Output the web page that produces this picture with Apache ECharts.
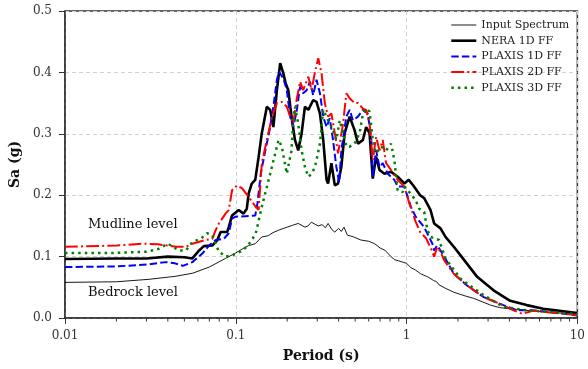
<!DOCTYPE html>
<html>
<head>
<meta charset="utf-8">
<script src="https://cdn.jsdelivr.net/npm/echarts@6/dist/echarts.min.js"></script>
<style>
  html, body { margin: 0; padding: 0; background: #fff; }
  #chart { width: 588px; height: 369px; }
</style>
</head>
<body>
<div id="chart"></div>
<script>
// [period (s), Sa (g)]
const inputSpectrum = [[0.01,0.058],[0.02,0.059],[0.031,0.063],[0.0446,0.068],[0.056,0.073],[0.07,0.083],[0.087,0.097],[0.1,0.106],[0.11,0.113],[0.119,0.118],[0.13,0.121],[0.142,0.132],[0.155,0.134],[0.165,0.139],[0.178,0.143],[0.2,0.148],[0.215,0.151],[0.232,0.154],[0.254,0.148],[0.265,0.150],[0.277,0.156],[0.29,0.153],[0.304,0.150],[0.32,0.152],[0.335,0.147],[0.347,0.154],[0.365,0.144],[0.38,0.140],[0.4,0.146],[0.415,0.141],[0.43,0.148],[0.45,0.135],[0.49,0.132],[0.54,0.127],[0.6,0.125],[0.65,0.121],[0.7,0.114],[0.75,0.110],[0.81,0.100],[0.85,0.095],[0.9,0.093],[1.0,0.089],[1.06,0.082],[1.13,0.078],[1.21,0.072],[1.33,0.067],[1.44,0.061],[1.5,0.059],[1.55,0.054],[1.7,0.048],[1.89,0.042],[2.2,0.036],[2.47,0.032],[2.8,0.026],[3.1,0.021],[3.5,0.017],[4.0,0.015],[5.0,0.0125],[6.3,0.010],[8,0.008],[10,0.007]];

const nera1d = [[0.01,0.096],[0.02,0.097],[0.03,0.097],[0.04,0.100],[0.05,0.099],[0.0557,0.097],[0.061,0.110],[0.065,0.117],[0.0728,0.118],[0.078,0.127],[0.0815,0.140],[0.089,0.140],[0.091,0.148],[0.0951,0.167],[0.104,0.176],[0.111,0.170],[0.116,0.178],[0.119,0.203],[0.124,0.219],[0.13,0.225],[0.136,0.262],[0.142,0.301],[0.152,0.344],[0.159,0.339],[0.166,0.311],[0.174,0.371],[0.182,0.415],[0.19,0.398],[0.196,0.382],[0.203,0.371],[0.212,0.328],[0.222,0.290],[0.232,0.273],[0.243,0.301],[0.254,0.344],[0.266,0.339],[0.284,0.355],[0.297,0.352],[0.311,0.333],[0.325,0.290],[0.34,0.225],[0.347,0.219],[0.363,0.252],[0.38,0.216],[0.397,0.219],[0.415,0.246],[0.434,0.301],[0.464,0.328],[0.496,0.306],[0.519,0.284],[0.555,0.290],[0.58,0.311],[0.607,0.301],[0.634,0.227],[0.663,0.263],[0.694,0.241],[0.742,0.235],[0.811,0.238],[0.887,0.230],[0.97,0.219],[1.03,0.225],[1.1,0.215],[1.2,0.200],[1.27,0.195],[1.38,0.176],[1.45,0.154],[1.58,0.146],[1.69,0.132],[1.89,0.116],[2.07,0.102],[2.59,0.067],[3.23,0.045],[4.04,0.028],[5.05,0.021],[6.32,0.015],[10,0.008]];

const plaxis1d = [[0.01,0.083],[0.02,0.084],[0.03,0.087],[0.039,0.091],[0.044,0.089],[0.049,0.085],[0.0557,0.091],[0.0637,0.105],[0.0697,0.118],[0.0762,0.127],[0.0851,0.129],[0.091,0.138],[0.0951,0.162],[0.0996,0.165],[0.119,0.166],[0.13,0.167],[0.134,0.187],[0.14,0.235],[0.149,0.273],[0.159,0.311],[0.166,0.344],[0.174,0.388],[0.179,0.401],[0.19,0.390],[0.199,0.371],[0.208,0.328],[0.217,0.311],[0.227,0.336],[0.238,0.377],[0.248,0.366],[0.26,0.371],[0.272,0.385],[0.284,0.363],[0.297,0.388],[0.311,0.366],[0.325,0.328],[0.34,0.311],[0.355,0.325],[0.371,0.290],[0.388,0.246],[0.403,0.221],[0.415,0.273],[0.444,0.328],[0.464,0.339],[0.485,0.322],[0.519,0.328],[0.555,0.339],[0.593,0.333],[0.62,0.295],[0.634,0.230],[0.663,0.273],[0.694,0.246],[0.725,0.252],[0.776,0.235],[0.848,0.225],[0.887,0.214],[0.97,0.214],[1.06,0.181],[1.13,0.165],[1.267,0.148],[1.416,0.121],[1.45,0.110],[1.51,0.118],[1.58,0.110],[1.66,0.100],[1.89,0.072],[2.26,0.053],[2.83,0.034],[3.53,0.023],[4.42,0.0125],[5.53,0.0125],[6.9,0.010],[10,0.004]];

const plaxis2d = [[0.01,0.116],[0.02,0.118],[0.0285,0.121],[0.035,0.120],[0.045,0.116],[0.051,0.116],[0.0557,0.121],[0.0666,0.127],[0.0728,0.129],[0.0762,0.143],[0.0796,0.154],[0.0871,0.170],[0.091,0.176],[0.0951,0.208],[0.1018,0.216],[0.109,0.211],[0.119,0.197],[0.13,0.182],[0.136,0.176],[0.142,0.252],[0.152,0.290],[0.163,0.328],[0.174,0.350],[0.186,0.352],[0.199,0.344],[0.208,0.328],[0.217,0.317],[0.227,0.355],[0.238,0.385],[0.248,0.371],[0.266,0.393],[0.278,0.371],[0.291,0.401],[0.304,0.423],[0.318,0.398],[0.332,0.350],[0.347,0.328],[0.363,0.333],[0.38,0.301],[0.397,0.268],[0.425,0.317],[0.444,0.366],[0.454,0.369],[0.464,0.358],[0.475,0.355],[0.496,0.350],[0.519,0.350],[0.555,0.341],[0.58,0.339],[0.607,0.317],[0.634,0.257],[0.663,0.295],[0.694,0.273],[0.725,0.290],[0.759,0.252],[0.811,0.241],[0.887,0.225],[0.97,0.214],[1.037,0.187],[1.13,0.157],[1.2,0.140],[1.3,0.130],[1.416,0.108],[1.45,0.100],[1.51,0.115],[1.58,0.108],[1.66,0.094],[1.89,0.072],[2.26,0.053],[2.83,0.034],[3.53,0.023],[4.2,0.013],[4.72,0.007],[5.05,0.009],[5.53,0.012],[6.9,0.009],[10,0.005]];

const plaxis3d = [[0.01,0.106],[0.02,0.106],[0.03,0.108],[0.035,0.112],[0.04,0.121],[0.0466,0.110],[0.051,0.110],[0.0557,0.124],[0.0623,0.129],[0.068,0.138],[0.0728,0.135],[0.0762,0.121],[0.0796,0.108],[0.0871,0.100],[0.0951,0.102],[0.1065,0.108],[0.116,0.116],[0.124,0.127],[0.131,0.138],[0.135,0.154],[0.142,0.181],[0.159,0.235],[0.178,0.290],[0.186,0.279],[0.199,0.235],[0.212,0.273],[0.217,0.322],[0.222,0.344],[0.232,0.317],[0.243,0.273],[0.254,0.246],[0.266,0.230],[0.278,0.235],[0.291,0.246],[0.311,0.284],[0.325,0.339],[0.347,0.322],[0.371,0.306],[0.388,0.290],[0.406,0.322],[0.425,0.301],[0.444,0.279],[0.464,0.279],[0.496,0.284],[0.531,0.301],[0.555,0.333],[0.58,0.341],[0.607,0.336],[0.634,0.290],[0.663,0.268],[0.71,0.279],[0.759,0.273],[0.811,0.284],[0.848,0.257],[0.887,0.208],[0.948,0.205],[0.97,0.214],[1.037,0.205],[1.13,0.192],[1.185,0.178],[1.267,0.173],[1.325,0.143],[1.384,0.132],[1.48,0.129],[1.55,0.127],[1.69,0.097],[2.07,0.064],[2.26,0.056],[2.83,0.037],[3.7,0.018],[5.05,0.0125],[6.9,0.010],[10,0.006]];

const minorTicks = [0.02,0.03,0.04,0.05,0.06,0.07,0.08,0.09,0.2,0.3,0.4,0.5,0.6,0.7,0.8,0.9,2,3,4,5,6,7,8,9];
const seriesNames = ['Input Spectrum','NERA 1D FF','PLAXIS 1D FF','PLAXIS 2D FF','PLAXIS 3D FF'];
const lineWidths = [0.9, 2.6, 2, 2, 2.5];

const FONT = 'DejaVu Serif';
const chart = echarts.init(document.getElementById('chart'), null, { renderer: 'canvas' });

function line(name, data, color, width, type) {
  return {
    name, type: 'line', data, showSymbol: false, symbol: 'circle',
    smooth: false, animation: false, z: 3,
    lineStyle: { color, width, type, cap: 'butt' },
    itemStyle: { color, opacity: 0 }
  };
}

chart.setOption({
  backgroundColor: '#fff',
  animation: false,
  grid: { left: 65, right: 7, top: 11, bottom: 51, show: true, borderColor: '#333', borderWidth: 1.5 },
  legend: {
    data: seriesNames.map((n, i) => ({ name: n, lineStyle: { width: lineWidths[i] } })),
    orient: 'vertical', left: 450, top: 18, padding: 0,
    itemWidth: 25, itemHeight: 14, itemGap: 1.7,
    itemStyle: { opacity: 0 },
    textStyle: { fontFamily: FONT, fontSize: 11, color: '#222', lineHeight: 14 }
  },
  xAxis: {
    type: 'log', logBase: 10, min: 0.01, max: 10,
    name: 'Period (s)', nameLocation: 'middle', nameGap: 31,
    nameTextStyle: { fontFamily: FONT, fontSize: 14, fontWeight: 'bold', color: '#111' },
    axisLine: { lineStyle: { color: '#333', width: 1.5 } },
    axisTick: { show: true, length: 6, lineStyle: { color: '#333', width: 1 } },
    axisLabel: { fontFamily: FONT, fontSize: 12, color: '#333', margin: 12, formatter: v => String(v) },
    splitLine: { show: true, lineStyle: { color: '#d0d0d0', type: [4, 3], width: 1 } }
  },
  yAxis: {
    type: 'value', min: 0, max: 0.5, interval: 0.1,
    name: 'Sa (g)', nameLocation: 'middle', nameGap: 42,
    nameTextStyle: { fontFamily: FONT, fontSize: 14, fontWeight: 'bold', color: '#111' },
    axisLine: { show: true, lineStyle: { color: '#333', width: 1.5 } },
    axisTick: { show: true, length: 6, lineStyle: { color: '#333', width: 1 } },
    axisLabel: { fontFamily: FONT, fontSize: 12, color: '#333', margin: 13, formatter: v => v.toFixed(1) },
    splitLine: { show: true, lineStyle: { color: '#d0d0d0', type: [4, 3], width: 1 } }
  },
  graphic: [
    { type: 'text', left: 88, top: 218, style: { text: 'Mudline level', font: '13px "DejaVu Serif"', fill: '#111' } },
    { type: 'text', left: 88, top: 286, style: { text: 'Bedrock level', font: '13px "DejaVu Serif"', fill: '#111' } }
  ],
  series: [
    line('Input Spectrum', inputSpectrum, '#000', lineWidths[0], 'solid'),
    line('NERA 1D FF', nera1d, '#000', lineWidths[1], 'solid'),
    line('PLAXIS 1D FF', plaxis1d, '#0000ff', lineWidths[2], [7.4, 3.2]),
    line('PLAXIS 2D FF', plaxis2d, '#ff0000', lineWidths[3], [12.8, 3.2, 2, 3.2]),
    line('PLAXIS 3D FF', plaxis3d, '#008000', lineWidths[4], [2.5, 4.1]),
    {
      type: 'custom', silent: true, clip: false, animation: false,
      data: minorTicks.map(v => [v, 0]),
      renderItem: (params, api) => {
        const p = api.coord([api.value(0), 0]);
        return { type: 'line', shape: { x1: p[0], y1: p[1], x2: p[0], y2: p[1] + 3.5 }, style: { stroke: '#333', lineWidth: 1 } };
      }
    }
  ]
});
</script>
</body>
</html>
